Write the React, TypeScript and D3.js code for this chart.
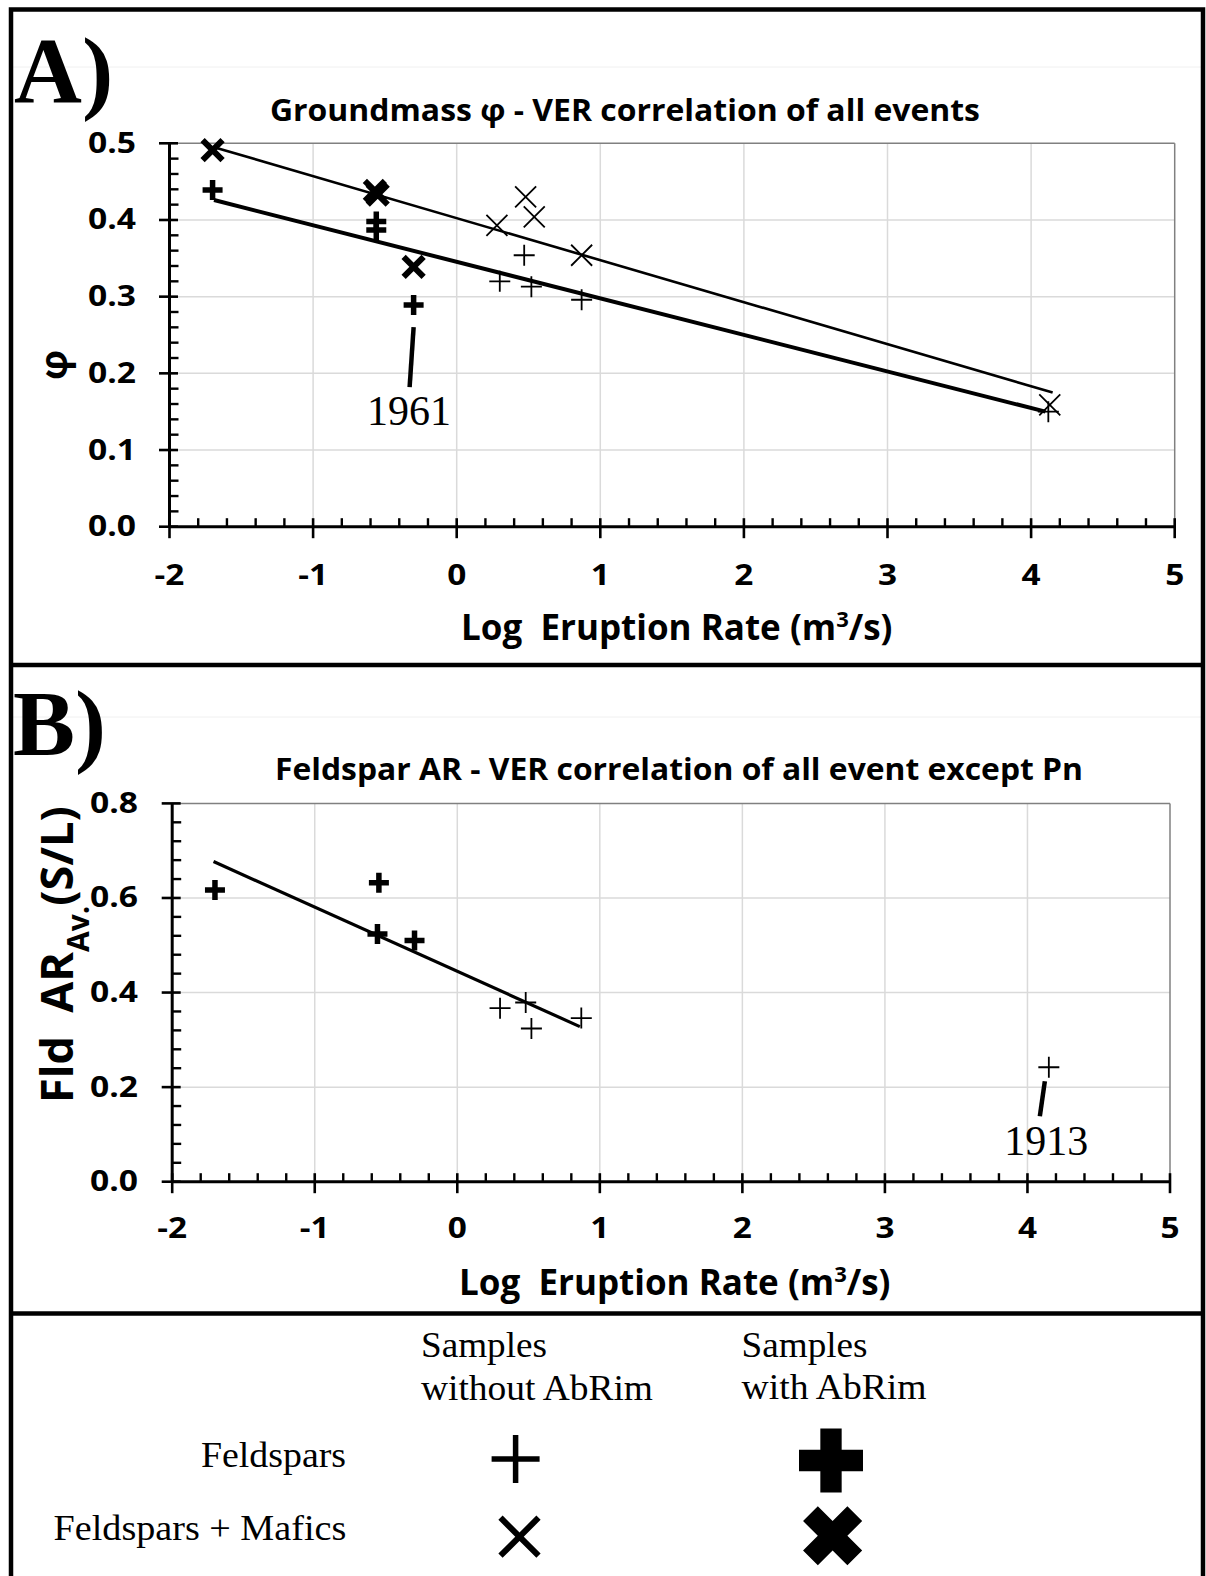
import React from 'react';
import * as d3 from 'd3';

// ---------- data ----------
const xTickValues = [-2, -1, 0, 1, 2, 3, 4, 5];
const yTickValuesA = [0, 0.1, 0.2, 0.3, 0.4, 0.5];
const yTickValuesB = [0, 0.2, 0.4, 0.6, 0.8];

// Panel A: Groundmass phi
const fldWithA_x = [-1.70, -0.56, -0.56, -0.30];
const fldWithA_y = [0.439, 0.398, 0.387, 0.289];
const fldWithoutA_x = [0.30, 0.47, 0.52, 0.87, 4.12];
const fldWithoutA_y = [0.320, 0.354, 0.313, 0.296, 0.150];
const mafWithA_x = [-1.70, -0.57, -0.55, -0.30];
const mafWithA_y = [0.491, 0.438, 0.433, 0.339];
const mafWithoutA_x = [0.28, 0.48, 0.54, 0.87, 4.13];
const mafWithoutA_y = [0.393, 0.430, 0.404, 0.354, 0.159];
const fitMafA_x = [-1.69, 4.15];
const fitMafA_y = [0.495, 0.175];
const fitFldA_x = [-1.69, 4.10];
const fitFldA_y = [0.426, 0.150];

// Panel B: Feldspar AR
const fldWithB_x = [-1.70, -0.55, -0.56, -0.30];
const fldWithB_y = [0.617, 0.632, 0.524, 0.510];
const fldWithoutB_x = [0.30, 0.48, 0.52, 0.87, 4.15];
const fldWithoutB_y = [0.367, 0.379, 0.324, 0.346, 0.242];
const fitFldB_x = [-1.71, 0.86];
const fitFldB_y = [0.677, 0.328];

const titleA = 'Groundmass φ - VER correlation of all events';
const titleB = 'Feldspar AR - VER correlation of all event except Pn';
const legendCols = [['Samples', 'without AbRim'], ['Samples', 'with AbRim']];
const legendRows = ['Feldspars', 'Feldspars + Mafics'];

// ---------- styling ----------
const SANS = "'Open Sans', 'DejaVu Sans', sans-serif";
const SERIF = "'Liberation Serif', 'Times New Roman', serif";
const GRID = '#dadada';

const zip = (xs: number[], ys: number[]) => xs.map((x, i) => ({ x, y: ys[i] }));

function Plus({ cx, cy, h, sw }: { cx: number; cy: number; h: number; sw: number }) {
  return <path d={`M${cx - h},${cy}H${cx + h}M${cx},${cy - h}V${cy + h}`} stroke="#000" strokeWidth={sw} fill="none" />;
}
function Cross({ cx, cy, h, sw }: { cx: number; cy: number; h: number; sw: number }) {
  return <path d={`M${cx - h},${cy - h}L${cx + h},${cy + h}M${cx - h},${cy + h}L${cx + h},${cy - h}`} stroke="#000" strokeWidth={sw} fill="none" />;
}

type PanelProps = {
  left: number; right: number; top: number; bottom: number;
  yMax: number; yTicks: number[]; yMinor: number;
  title: string; titleX: number; titleY: number; titleLen: number;
  xTitleX: number; xTitleY: number; xLabelY: number; yLabelRight: number;
  children: (x: d3.ScaleLinear<number, number>, y: d3.ScaleLinear<number, number>) => React.ReactNode;
};

function Panel(p: PanelProps) {
  const x = d3.scaleLinear().domain([-2, 5]).range([p.left, p.right]);
  const y = d3.scaleLinear().domain([0, p.yMax]).range([p.bottom, p.top]);
  const xMinor = d3.range(-2, 5.0001, 0.2).filter(v => Math.abs(v - Math.round(v)) > 1e-6);
  const yMinor = d3.range(0, p.yMax + 1e-6, p.yMinor).filter(v => !p.yTicks.some(t => Math.abs(t - v) < 1e-6));
  const x0 = x(-2), y0 = y(0);
  return (
    <g>
      {/* gridlines */}
      {xTickValues.slice(1, -1).map(v => (
        <line key={'gx' + v} x1={x(v)} x2={x(v)} y1={p.top} y2={p.bottom} stroke={GRID} strokeWidth={1.5} />
      ))}
      {p.yTicks.slice(1, -1).map(v => (
        <line key={'gy' + v} x1={p.left} x2={p.right} y1={y(v)} y2={y(v)} stroke={GRID} strokeWidth={1.5} />
      ))}
      <line x1={p.left} x2={p.right} y1={p.top} y2={p.top} stroke="#808080" strokeWidth={1.5} />
      <line x1={p.right} x2={p.right} y1={p.top} y2={p.bottom} stroke="#808080" strokeWidth={1.5} />
      {/* title */}
      <text x={p.titleX} y={p.titleY} textAnchor="middle" fontFamily={SANS} fontWeight={700} fontSize={31}
        textLength={p.titleLen} lengthAdjust="spacingAndGlyphs">{p.title}</text>
      {/* data */}
      {p.children(x, y)}
      {/* axes */}
      <line x1={x0} x2={x0} y1={p.top} y2={y0} stroke="#000" strokeWidth={3} />
      <line x1={x0} x2={p.right} y1={y0} y2={y0} stroke="#000" strokeWidth={3} />
      {p.yTicks.map(v => (
        <line key={'ty' + v} x1={x0 - 10.5} x2={x0 + 8.5} y1={y(v)} y2={y(v)} stroke="#000" strokeWidth={2.6} />
      ))}
      {yMinor.map(v => (
        <line key={'my' + v} x1={x0} x2={x0 + 9} y1={y(v)} y2={y(v)} stroke="#000" strokeWidth={2.4} />
      ))}
      {xTickValues.map(v => (
        <line key={'tx' + v} x1={x(v)} x2={x(v)} y1={y0 - 8.5} y2={y0 + 11.5} stroke="#000" strokeWidth={2.6} />
      ))}
      {xMinor.map(v => (
        <line key={'mx' + v} x1={x(v)} x2={x(v)} y1={y0 - 8.5} y2={y0} stroke="#000" strokeWidth={2.4} />
      ))}
      {p.yTicks.map(v => (
        <text key={'ly' + v} transform={`translate(${p.yLabelRight},${y(v) + 9.5}) scale(1.2,1)`} textAnchor="end"
          fontFamily={SANS} fontWeight={700} fontSize={28}>{d3.format('.1f')(v)}</text>
      ))}
      {xTickValues.map(v => (
        <text key={'lx' + v} transform={`translate(${x(v)},${p.xLabelY}) scale(1.15,1)`} textAnchor="middle"
          fontFamily={SANS} fontWeight={700} fontSize={29}>{String(v)}</text>
      ))}
      <text x={p.xTitleX} y={p.xTitleY} fontFamily={SANS} fontWeight={700} fontSize={35} style={{ whiteSpace: 'pre' }}>
        <tspan>{'Log  Eruption Rate (m'}</tspan>
        <tspan fontSize={22} dy={-13}>3</tspan>
        <tspan dy={13}>/s)</tspan>
      </text>
    </g>
  );
}

export default function App() {
  const crossPath = d3.symbol().type(d3.symbolCross).size(2275)() as string;
  return (
    <svg width={1206} height={1576} style={{ position: 'absolute', left: 0, top: 0, background: '#fff' }}
      xmlns="http://www.w3.org/2000/svg">
      <rect x={0} y={0} width={1206} height={1576} fill="#fff" />
      {/* faint chart-area edges */}
      <line x1={13} x2={1201} y1={67} y2={67} stroke="#f0f0f0" strokeWidth={1} />
      <line x1={13} x2={1201} y1={717} y2={717} stroke="#f0f0f0" strokeWidth={1} />

      {/* Panel A */}
      <Panel left={169.5} right={1174.7} top={143.3} bottom={526.7} yMax={0.5} yTicks={yTickValuesA} yMinor={0.02}
        title={titleA} titleX={625} titleY={121} titleLen={710}
        xTitleX={461} xTitleY={640} xLabelY={585} yLabelRight={136}>
        {(x, y) => {
          const line = d3.line<{ x: number; y: number }>().x(d => x(d.x)).y(d => y(d.y));
          const p1961 = zip(fldWithA_x, fldWithA_y)[3];
          return (
            <g>
              <path d={line(zip(fitMafA_x, fitMafA_y)) as string} stroke="#000" strokeWidth={2.6} fill="none" />
              <path d={line(zip(fitFldA_x, fitFldA_y)) as string} stroke="#000" strokeWidth={4} fill="none" />
              {zip(mafWithoutA_x, mafWithoutA_y).map((d, i) => <Cross key={'a1' + i} cx={x(d.x)} cy={y(d.y)} h={10.5} sw={1.8} />)}
              {zip(fldWithoutA_x, fldWithoutA_y).map((d, i) => <Plus key={'a2' + i} cx={x(d.x)} cy={y(d.y)} h={10.5} sw={1.8} />)}
              {zip(mafWithA_x, mafWithA_y).map((d, i) => <Cross key={'a3' + i} cx={x(d.x)} cy={y(d.y)} h={10} sw={6} />)}
              {zip(fldWithA_x, fldWithA_y).map((d, i) => <Plus key={'a4' + i} cx={x(d.x)} cy={y(d.y)} h={10} sw={5.5} />)}
              <line x1={x(p1961.x)} y1={y(p1961.y) + 22} x2={x(p1961.x) - 4} y2={y(p1961.y) + 82} stroke="#000" strokeWidth={4.5} />
              <text x={x(p1961.x) - 4.5} y={y(p1961.y) + 120} textAnchor="middle" fontFamily={SERIF} fontSize={42}>1961</text>
            </g>
          );
        }}
      </Panel>

      {/* Panel B */}
      <Panel left={172.2} right={1170} top={803.4} bottom={1181.7} yMax={0.8} yTicks={yTickValuesB} yMinor={0.04}
        title={titleB} titleX={679} titleY={780} titleLen={808}
        xTitleX={459} xTitleY={1295} xLabelY={1238} yLabelRight={138}>
        {(x, y) => {
          const line = d3.line<{ x: number; y: number }>().x(d => x(d.x)).y(d => y(d.y));
          const p1913 = zip(fldWithoutB_x, fldWithoutB_y)[4];
          return (
            <g>
              <path d={line(zip(fitFldB_x, fitFldB_y)) as string} stroke="#000" strokeWidth={3.2} fill="none" />
              {zip(fldWithoutB_x, fldWithoutB_y).map((d, i) => <Plus key={'b1' + i} cx={x(d.x)} cy={y(d.y)} h={10.5} sw={1.8} />)}
              {zip(fldWithB_x, fldWithB_y).map((d, i) => <Plus key={'b2' + i} cx={x(d.x)} cy={y(d.y)} h={10} sw={5.5} />)}
              <line x1={x(p1913.x) - 4} y1={y(p1913.y) + 14} x2={x(p1913.x) - 9} y2={y(p1913.y) + 49} stroke="#000" strokeWidth={4.5} />
              <text x={x(p1913.x) - 2.5} y={y(p1913.y) + 88} textAnchor="middle" fontFamily={SERIF} fontSize={42}>1913</text>
            </g>
          );
        }}
      </Panel>

      {/* Y axis titles */}
      <text transform="translate(67,365) rotate(-90)" textAnchor="middle" fontFamily={SANS} fontWeight={700} fontSize={38}>φ</text>
      <text transform="translate(73,1103) rotate(-90)" fontFamily={SANS} fontWeight={700} fontSize={45} style={{ whiteSpace: 'pre' }}>
        <tspan>{'Fld  AR'}</tspan>
        <tspan fontSize={30} dy={16}>Av.</tspan>
        <tspan dy={-16}>(S/L)</tspan>
      </text>

      {/* Panel letters */}
      <text x={14} y={102} fontFamily={SERIF} fontWeight={700} fontSize={94}>A)</text>
      <text x={13} y={755} fontFamily={SERIF} fontWeight={700} fontSize={93}>B)</text>

      {/* Legend */}
      <text x={421} y={1357} fontFamily={SERIF} fontSize={35} textLength={126} lengthAdjust="spacingAndGlyphs">{legendCols[0][0]}</text>
      <text x={421} y={1400} fontFamily={SERIF} fontSize={35} textLength={232} lengthAdjust="spacingAndGlyphs">{legendCols[0][1]}</text>
      <text x={741.6} y={1357} fontFamily={SERIF} fontSize={35} textLength={126} lengthAdjust="spacingAndGlyphs">{legendCols[1][0]}</text>
      <text x={741.6} y={1399} fontFamily={SERIF} fontSize={35} textLength={185} lengthAdjust="spacingAndGlyphs">{legendCols[1][1]}</text>
      <text x={201} y={1467} fontFamily={SERIF} fontSize={35} textLength={145} lengthAdjust="spacingAndGlyphs">{legendRows[0]}</text>
      <text x={53.6} y={1540} fontFamily={SERIF} fontSize={35} textLength={292.7} lengthAdjust="spacingAndGlyphs">{legendRows[1]}</text>
      <Plus cx={515.6} cy={1459} h={24} sw={5.5} />
      <Cross cx={519.5} cy={1536.7} h={19} sw={6} />
      <path d={crossPath} transform="translate(831,1460.5)" fill="#000" />
      <path d={crossPath} transform="translate(832.6,1535.8) rotate(45) scale(0.98)" fill="#000" />

      {/* frame & separators */}
      <rect x={11} y={9.5} width={1192} height={1620} fill="none" stroke="#000" strokeWidth={4.5} />
      <line x1={11} x2={1203} y1={665} y2={665} stroke="#000" strokeWidth={4.5} />
      <line x1={11} x2={1203} y1={1313.5} y2={1313.5} stroke="#000" strokeWidth={4.5} />
    </svg>
  );
}
